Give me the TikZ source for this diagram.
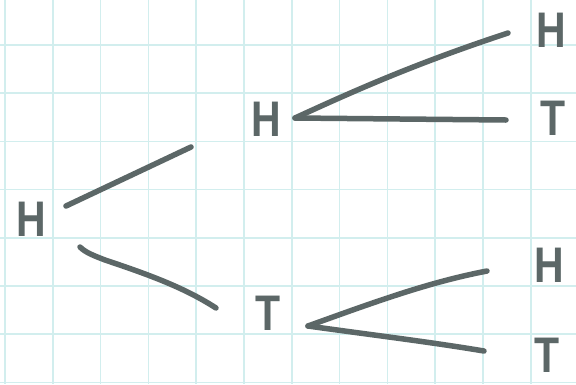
\documentclass[tikz,border=0pt]{standalone}
\usepackage{fontspec}
\setmainfont{Liberation Sans}
\newfontfamily\handfont[FakeStretch=0.82,BoldFont={Liberation Sans Bold}]{Liberation Sans}
\begin{document}
\begin{tikzpicture}[x=1pt,y=-1pt,
  gridline/.style={draw=gridcol,line width=1.5pt},
  pen/.style={draw=inkcol,line width=5.5pt,line cap=round,line join=round},
  letter/.style={text=inkcol,font=\handfont\fontsize{50}{50}\selectfont\bfseries,inner sep=0pt,anchor=center}]
\definecolor{gridcol}{HTML}{D2EEEE}
\definecolor{inkcol}{HTML}{5C6767}
\useasboundingbox (0,0) rectangle (576,384);
\fill[white] (0,0) rectangle (576,384);
% grid
\foreach \i in {0,...,12} {\draw[gridline] ({5+47.8*\i},0) -- ({5+47.8*\i},384);}
\foreach \j in {0,...,8} {\draw[gridline] (0,{-3.2+48.2*\j}) -- (576,{-3.2+48.2*\j});}
% letters
\node[letter] (h0) at (31,219) {H};
\node[letter] (h1) at (266,119) {H};
\node[letter] (t1) at (268,313) {T};
\node[letter] (h2) at (551,30) {H};
\node[letter] (t2) at (553,118) {T};
\node[letter] (h3) at (549,265) {H};
\node[letter] (t3) at (547,355) {T};
% line ends
\coordinate (a0) at (66,206);
\coordinate (a1) at (191,147);
\coordinate (b0) at (80,247);
\coordinate (b1) at (216,308);
\coordinate (c0) at (295,118);
\coordinate (c1) at (508,33);
\coordinate (c2) at (506,120);
\coordinate (d0) at (308,326);
\coordinate (d1) at (487,271);
\coordinate (d2) at (484,351);
% connectors
\draw[pen] (a0) -- (a1);
\draw[pen] (b0) .. controls (86,253) and (95,256) .. (105,260) .. controls (150,275) and (185,288) .. (b1);
\draw[pen] (c0) .. controls (360,88) and (420,62) .. (c1);
\draw[pen] (c0) -- (c2);
\draw[pen] (d0) .. controls (380,300) and (430,282) .. (d1);
\draw[pen] (d0) .. controls (380,336) and (430,342) .. (d2);
\end{tikzpicture}
\end{document}
